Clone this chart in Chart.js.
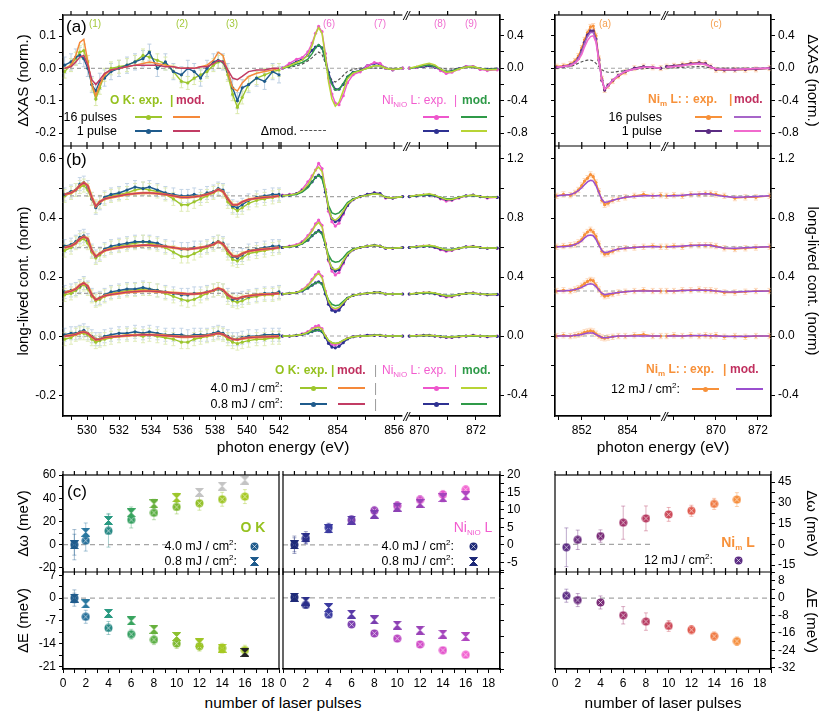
<!DOCTYPE html>
<html>
<head>
<meta charset="utf-8">
<script src="https://cdn.jsdelivr.net/npm/chart.js@4.4.0/dist/chart.umd.min.js"></script>
<style>
body{margin:0;background:#fff;width:830px;height:723px;position:relative;overflow:hidden;font-family:'Liberation Sans',Arial,Helvetica,sans-serif;}
canvas{position:absolute;}
.t{position:absolute;white-space:nowrap;line-height:1;color:#000;font-size:12px;}
sub{font-size:8px;vertical-align:-3px;line-height:0;}
sup{font-size:8px;vertical-align:5px;line-height:0;}
</style>
</head>
<body>
<canvas id="cAB" width="545" height="446" style="left:0;top:0"></canvas>
<canvas id="cMB" width="290" height="446" style="left:540px;top:0"></canvas>
<canvas id="cOK" width="290" height="234" style="left:0;top:455px"></canvas>
<canvas id="cNI" width="277" height="234" style="left:268px;top:455px"></canvas>
<canvas id="cNM" width="290" height="234" style="left:540px;top:455px"></canvas>
<script>
// ---------- photon energy grids (eV) ----------
const eOK = [528.6, 529.0, 529.3, 529.55, 529.8, 530.05, 530.3, 530.55, 530.8, 531.1, 531.5, 532.0, 532.5, 533.0, 533.5, 533.9, 534.4, 534.9, 535.4, 535.9, 536.3, 536.7, 537.1, 537.5, 537.9, 538.2, 538.5, 538.8, 539.1, 539.4, 539.7, 540.1, 540.6, 541.1, 541.6, 542.0];
const eNi1 = [852.05, 852.3, 852.55, 852.75, 852.95, 853.1, 853.22, 853.33, 853.45, 853.57, 853.68, 853.8, 853.92, 854.05, 854.2, 854.35, 854.55, 854.8, 855.05, 855.3, 855.5, 855.7, 855.95, 856.3];
const eNi2 = [869.65, 869.9, 870.15, 870.35, 870.55, 870.75, 870.95, 871.15, 871.4, 871.65, 871.9, 872.15, 872.4, 872.75];
const eNim1 = [850.9, 851.2, 851.5, 851.7, 851.85, 852.0, 852.12, 852.25, 852.38, 852.5, 852.62, 852.75, 852.88, 853.0, 853.15, 853.35, 853.6, 853.9, 854.3, 854.7, 855.1, 855.45];
const eNim2 = [867.65, 868.0, 868.4, 868.8, 869.2, 869.5, 869.75, 870.0, 870.4, 870.9, 871.4, 871.9, 872.55];

// ---------- (a) dXAS, O K ----------
const okA16 = [-0.01, 0.01, 0.03, 0.05, 0.055, 0.02, -0.05, -0.095, -0.06, -0.02, 0.0, 0.005, 0.01, 0.02, 0.04, 0.035, 0.025, 0.015, -0.01, -0.04, -0.045, -0.03, -0.02, -0.01, 0.01, 0.02, 0.02, -0.02, -0.08, -0.12, -0.09, -0.05, -0.03, -0.02, -0.01, -0.005];
const okA1 = [0.01, 0.02, 0.035, 0.04, 0.03, 0.0, -0.05, -0.07, -0.04, -0.03, -0.01, 0.0, 0.01, 0.02, 0.03, 0.05, 0.0, 0.02, -0.01, -0.02, 0.0, -0.01, -0.03, 0.0, 0.02, 0.025, 0.02, -0.01, -0.06, -0.1, -0.06, -0.05, -0.03, -0.04, -0.01, -0.02];
const okAmod16 = [0.0, 0.01, 0.04, 0.08, 0.09, 0.02, -0.05, -0.085, -0.05, -0.02, -0.005, 0.0, 0.005, 0.01, 0.015, 0.02, 0.015, 0.01, 0.005, 0.0, 0.0, 0.0, 0.005, 0.01, 0.025, 0.05, 0.04, -0.01, -0.06, -0.07, -0.045, -0.025, -0.015, -0.01, -0.005, 0.0];
const okAmod1 = [0.0, 0.005, 0.02, 0.035, 0.04, 0.01, -0.035, -0.05, -0.035, -0.015, -0.005, 0.0, 0.005, 0.01, 0.01, 0.01, 0.01, 0.005, 0.005, 0.0, 0.0, 0.0, 0.005, 0.005, 0.015, 0.025, 0.02, -0.005, -0.03, -0.035, -0.025, -0.01, -0.005, -0.005, 0.0, 0.0];

// ---------- (a) dXAS, Ni(NiO) L ----------
const niA16_1 = [0.0, 0.06, 0.11, 0.13, 0.2, 0.31, 0.43, 0.515, 0.45, 0.18, -0.12, -0.32, -0.43, -0.45, -0.34, -0.18, -0.08, -0.045, 0.03, 0.07, 0.06, 0.0, -0.02, 0.0];
const niA1_1 = [0.0, 0.04, 0.08, 0.11, 0.16, 0.22, 0.26, 0.28, 0.25, 0.12, -0.05, -0.18, -0.26, -0.26, -0.2, -0.11, -0.05, -0.03, 0.03, 0.06, 0.05, 0.0, -0.02, 0.0];
const niAmod16_1 = [0.0, 0.03, 0.07, 0.1, 0.16, 0.28, 0.42, 0.5, 0.43, 0.15, -0.17, -0.38, -0.47, -0.42, -0.28, -0.13, -0.06, -0.03, 0.0, 0.03, 0.03, 0.0, -0.015, 0.0];
const niAmod1_1 = [0.0, 0.02, 0.05, 0.07, 0.11, 0.18, 0.25, 0.29, 0.25, 0.09, -0.08, -0.2, -0.27, -0.26, -0.19, -0.1, -0.05, -0.03, 0.0, 0.03, 0.03, 0.0, -0.015, 0.0];
const niAdmod_1 = [0.0, 0.01, 0.03, 0.05, 0.09, 0.13, 0.17, 0.2, 0.17, 0.06, -0.07, -0.15, -0.17, -0.14, -0.09, -0.04, -0.015, 0.0, 0.0, 0.0, 0.0, 0.0, 0.0, 0.0];
const niA16_2 = [0.0, 0.01, 0.03, 0.045, 0.02, -0.03, -0.065, -0.05, -0.01, 0.02, 0.02, -0.015, -0.03, -0.02];
const niA1_2 = [0.0, 0.01, 0.02, 0.03, 0.01, -0.02, -0.045, -0.035, -0.005, 0.02, 0.02, -0.01, -0.015, -0.01];
const niAmod16_2 = [0.0, 0.02, 0.045, 0.06, 0.04, -0.01, -0.05, -0.045, -0.01, 0.015, 0.02, -0.005, -0.02, -0.015];
const niAmod1_2 = [0.0, 0.01, 0.03, 0.04, 0.02, -0.015, -0.04, -0.035, -0.005, 0.015, 0.015, -0.005, -0.015, -0.01];
const niAdmod_2 = [0.0, 0.005, 0.015, 0.02, 0.015, 0.0, -0.01, -0.01, 0.0, 0.005, 0.005, 0.0, -0.005, 0.0];

// ---------- (a) dXAS, Ni(m) L ----------
const nimA16_1 = [0.02, 0.03, 0.05, 0.09, 0.15, 0.25, 0.35, 0.44, 0.51, 0.52, 0.4, 0.12, -0.13, -0.27, -0.22, -0.16, -0.1, -0.05, 0.0, 0.02, 0.01, 0.0];
const nimA1_1 = [0.01, 0.02, 0.04, 0.07, 0.12, 0.22, 0.32, 0.41, 0.46, 0.46, 0.36, 0.1, -0.15, -0.27, -0.21, -0.15, -0.09, -0.04, 0.0, 0.02, 0.01, 0.0];
const nimAmod16_1 = [0.01, 0.02, 0.04, 0.07, 0.12, 0.2, 0.3, 0.39, 0.44, 0.44, 0.35, 0.1, -0.14, -0.25, -0.22, -0.15, -0.09, -0.04, -0.01, 0.01, 0.01, 0.0];
const nimAmod1_1 = [0.01, 0.02, 0.03, 0.06, 0.1, 0.17, 0.26, 0.34, 0.39, 0.4, 0.32, 0.08, -0.15, -0.26, -0.22, -0.15, -0.09, -0.04, -0.01, 0.01, 0.01, 0.0];
const nimAdmod_1 = [0.0, 0.01, 0.02, 0.04, 0.06, 0.08, 0.09, 0.1, 0.1, 0.09, 0.06, 0.02, -0.02, -0.04, -0.05, -0.05, -0.04, -0.03, -0.015, -0.005, 0.0, 0.0];
const nimA16_2 = [0.02, 0.03, 0.045, 0.06, 0.07, 0.06, 0.02, -0.02, -0.025, -0.02, -0.02, -0.015, 0.0];
const nimA1_2 = [0.02, 0.03, 0.04, 0.055, 0.065, 0.055, 0.02, -0.015, -0.02, -0.02, -0.015, -0.01, 0.0];
const nimAmod16_2 = [0.01, 0.02, 0.035, 0.05, 0.06, 0.05, 0.02, -0.01, -0.015, -0.015, -0.01, -0.005, 0.0];
const nimAmod1_2 = [0.01, 0.02, 0.03, 0.045, 0.055, 0.045, 0.015, -0.01, -0.015, -0.015, -0.01, -0.005, 0.0];
const nimAdmod_2 = [0.0, 0.005, 0.01, 0.015, 0.02, 0.015, 0.005, 0.0, 0.0, 0.0, 0.0, 0.0, 0.0];

// ---------- (b) long-lived part, baselines of the four traces ----------
const okOff = [0, 0.145, 0.30, 0.475];
const niOff = [0, 0.285, 0.60, 0.945];
const nimOff = [0, 0.305, 0.605, 0.95];

// O K, change from baseline
const okB40 = [
  [-0.01, -0.005, 0.005, 0.01, 0.01, 0.005, -0.01, -0.02, -0.015, -0.01, -0.005, 0.0, 0.005, 0.005, 0.0, 0.005, 0.0, -0.005, -0.01, -0.02, -0.02, -0.01, -0.005, 0.0, 0.005, 0.01, 0.005, -0.01, -0.02, -0.025, -0.02, -0.015, -0.01, -0.01, -0.005, -0.005],
  [-0.005, 0.0, 0.01, 0.02, 0.03, 0.015, -0.01, -0.025, -0.02, -0.01, 0.0, 0.005, 0.01, 0.012, 0.015, 0.015, 0.01, 0.0, -0.01, -0.02, -0.025, -0.02, -0.01, 0.0, 0.01, 0.015, 0.01, -0.015, -0.025, -0.03, -0.025, -0.015, -0.01, -0.005, -0.005, 0.0],
  [-0.01, 0.0, 0.015, 0.025, 0.03, 0.015, -0.015, -0.035, -0.025, -0.01, 0.0, 0.005, 0.01, 0.015, 0.02, 0.015, 0.01, 0.0, -0.015, -0.03, -0.03, -0.02, -0.01, 0.0, 0.01, 0.02, 0.01, -0.02, -0.04, -0.045, -0.035, -0.02, -0.015, -0.01, -0.005, 0.0],
  [0.0, 0.01, 0.02, 0.03, 0.035, 0.02, -0.01, -0.035, -0.02, -0.01, 0.0, 0.005, 0.01, 0.02, 0.025, 0.02, 0.015, 0.005, -0.01, -0.03, -0.03, -0.02, -0.01, 0.0, 0.01, 0.02, 0.015, -0.02, -0.04, -0.05, -0.04, -0.025, -0.015, -0.01, -0.005, 0.0]
];
const okB08 = [
  [0.005, 0.01, 0.01, 0.015, 0.02, 0.01, 0.0, -0.01, -0.01, 0.0, 0.005, 0.01, 0.01, 0.015, 0.01, 0.015, 0.01, 0.005, 0.005, 0.005, 0.0, 0.005, 0.005, 0.005, 0.01, 0.015, 0.01, 0.0, -0.01, -0.01, -0.005, 0.0, 0.0, 0.005, 0.005, 0.005],
  [0.005, 0.01, 0.015, 0.025, 0.035, 0.02, -0.005, -0.02, -0.015, -0.005, 0.005, 0.01, 0.015, 0.015, 0.02, 0.015, 0.01, 0.005, 0.0, -0.005, -0.005, 0.0, 0.0, 0.005, 0.01, 0.015, 0.01, -0.005, -0.02, -0.02, -0.015, -0.01, -0.005, 0.0, 0.0, 0.005],
  [0.005, 0.01, 0.02, 0.035, 0.04, 0.025, -0.01, -0.03, -0.02, -0.005, 0.005, 0.01, 0.015, 0.02, 0.02, 0.02, 0.015, 0.005, 0.0, -0.005, -0.005, 0.0, 0.0, 0.005, 0.015, 0.02, 0.015, -0.01, -0.03, -0.035, -0.025, -0.01, -0.005, 0.0, 0.005, 0.005],
  [0.005, 0.015, 0.02, 0.04, 0.045, 0.03, -0.01, -0.04, -0.025, -0.005, 0.005, 0.01, 0.02, 0.03, 0.025, 0.03, 0.02, 0.01, 0.005, 0.0, 0.0, 0.005, 0.0, 0.01, 0.015, 0.025, 0.02, -0.01, -0.035, -0.04, -0.03, -0.015, -0.005, 0.0, 0.005, 0.005]
];
const okBmod = [
  [0.0, 0.003, 0.006, 0.012, 0.015, 0.01, -0.002, -0.012, -0.01, -0.005, -0.002, 0.0, 0.002, 0.004, 0.005, 0.005, 0.004, 0.002, 0.0, -0.002, -0.002, -0.001, 0.0, 0.002, 0.006, 0.01, 0.006, -0.003, -0.01, -0.012, -0.008, -0.005, -0.003, -0.002, -0.001, 0.0],
  [0.003, 0.008, 0.015, 0.028, 0.035, 0.025, -0.005, -0.022, -0.015, -0.008, -0.004, 0.0, 0.004, 0.006, 0.008, 0.008, 0.006, 0.004, 0.002, 0.0, -0.002, -0.002, 0.0, 0.004, 0.01, 0.018, 0.012, -0.005, -0.015, -0.018, -0.012, -0.008, -0.005, -0.003, -0.002, 0.0],
  [0.0, 0.005, 0.015, 0.03, 0.037, 0.03, -0.01, -0.03, -0.02, -0.01, -0.005, 0.0, 0.004, 0.006, 0.008, 0.008, 0.006, 0.004, 0.0, -0.004, -0.005, -0.003, 0.0, 0.004, 0.01, 0.02, 0.012, -0.01, -0.028, -0.03, -0.02, -0.012, -0.008, -0.005, -0.003, 0.0],
  [0.005, 0.01, 0.02, 0.035, 0.045, 0.035, -0.005, -0.035, -0.02, -0.01, -0.005, 0.0, 0.005, 0.008, 0.01, 0.01, 0.008, 0.005, 0.0, -0.005, -0.005, -0.003, 0.0, 0.005, 0.012, 0.022, 0.015, -0.01, -0.03, -0.03, -0.02, -0.012, -0.008, -0.005, -0.003, 0.0]
];

// Ni(NiO) L, change from baseline
const niB40_1 = [
  [0.0, 0.0, 0.005, 0.015, 0.03, 0.05, 0.065, 0.07, 0.05, 0.0, -0.04, -0.06, -0.06, -0.05, -0.035, -0.015, -0.005, 0.0, 0.005, 0.005, 0.005, 0.0, 0.0, 0.0],
  [0.0, 0.005, 0.01, 0.03, 0.06, 0.1, 0.13, 0.15, 0.12, 0.02, -0.06, -0.1, -0.11, -0.1, -0.07, -0.03, -0.01, 0.0, 0.005, 0.01, 0.01, 0.0, 0.0, 0.0],
  [0.0, 0.01, 0.02, 0.04, 0.08, 0.12, 0.16, 0.186, 0.15, 0.03, -0.09, -0.16, -0.186, -0.17, -0.11, -0.05, -0.015, 0.0, 0.01, 0.015, 0.01, -0.005, -0.005, 0.0],
  [0.01, 0.015, 0.02, 0.05, 0.1, 0.14, 0.18, 0.225, 0.19, 0.05, -0.1, -0.17, -0.2, -0.18, -0.12, -0.06, -0.02, 0.0, 0.015, 0.025, 0.02, -0.01, -0.01, 0.0]
];
const niB08_1 = [
  [0.0, 0.0, 0.005, 0.01, 0.02, 0.03, 0.04, 0.04, 0.03, -0.01, -0.05, -0.075, -0.08, -0.07, -0.045, -0.02, -0.005, 0.0, 0.005, 0.005, 0.005, 0.0, 0.0, 0.0],
  [0.0, 0.005, 0.01, 0.02, 0.04, 0.06, 0.075, 0.083, 0.07, 0.0, -0.07, -0.11, -0.12, -0.11, -0.07, -0.03, -0.01, 0.0, 0.005, 0.01, 0.01, 0.0, 0.0, 0.0],
  [0.0, 0.005, 0.01, 0.03, 0.05, 0.08, 0.1, 0.114, 0.1, 0.02, -0.08, -0.14, -0.16, -0.15, -0.1, -0.05, -0.015, 0.0, 0.01, 0.015, 0.01, -0.005, -0.005, 0.0],
  [0.005, 0.01, 0.02, 0.04, 0.07, 0.1, 0.13, 0.145, 0.13, 0.03, -0.08, -0.15, -0.17, -0.16, -0.11, -0.06, -0.02, 0.0, 0.015, 0.025, 0.02, -0.005, -0.01, 0.0]
];
const niBmod40_1 = [
  [0.0, 0.0, 0.005, 0.01, 0.025, 0.045, 0.055, 0.06, 0.045, 0.0, -0.03, -0.045, -0.05, -0.045, -0.03, -0.015, -0.005, 0.0, 0.0, 0.005, 0.005, 0.0, 0.0, 0.0],
  [0.0, 0.005, 0.01, 0.025, 0.055, 0.09, 0.12, 0.14, 0.11, 0.02, -0.05, -0.09, -0.1, -0.09, -0.06, -0.03, -0.01, 0.0, 0.005, 0.01, 0.01, 0.0, 0.0, 0.0],
  [0.0, 0.005, 0.015, 0.03, 0.07, 0.11, 0.15, 0.17, 0.14, 0.03, -0.08, -0.14, -0.15, -0.14, -0.09, -0.045, -0.015, 0.0, 0.01, 0.015, 0.01, -0.005, -0.005, 0.0],
  [0.005, 0.01, 0.02, 0.04, 0.08, 0.13, 0.18, 0.2, 0.17, 0.05, -0.08, -0.15, -0.16, -0.14, -0.1, -0.05, -0.02, 0.0, 0.01, 0.02, 0.015, -0.005, -0.01, 0.0]
];
const niBmod08_1 = [
  [0.0, 0.0, 0.005, 0.01, 0.02, 0.03, 0.035, 0.04, 0.03, 0.0, -0.03, -0.045, -0.05, -0.045, -0.03, -0.015, -0.005, 0.0, 0.0, 0.005, 0.005, 0.0, 0.0, 0.0],
  [0.0, 0.005, 0.01, 0.02, 0.04, 0.06, 0.075, 0.08, 0.065, 0.01, -0.04, -0.07, -0.08, -0.075, -0.05, -0.025, -0.01, 0.0, 0.005, 0.01, 0.01, 0.0, 0.0, 0.0],
  [0.0, 0.005, 0.01, 0.025, 0.05, 0.08, 0.1, 0.11, 0.09, 0.02, -0.05, -0.09, -0.1, -0.095, -0.07, -0.035, -0.01, 0.0, 0.01, 0.015, 0.01, -0.005, -0.005, 0.0],
  [0.005, 0.01, 0.015, 0.03, 0.06, 0.1, 0.13, 0.145, 0.12, 0.04, -0.06, -0.11, -0.12, -0.11, -0.08, -0.04, -0.015, 0.0, 0.01, 0.02, 0.015, -0.005, -0.01, 0.0]
];
const niB40_2 = [
  [0.0, 0.003, 0.005, 0.005, 0.0, -0.005, -0.01, -0.01, -0.005, 0.0, 0.005, 0.0, -0.005, 0.0],
  [0.0, 0.004, 0.008, 0.01, 0.002, -0.01, -0.02, -0.018, -0.006, 0.004, 0.008, 0.0, -0.006, -0.004],
  [0.0, 0.005, 0.01, 0.012, 0.0, -0.015, -0.025, -0.02, -0.005, 0.005, 0.008, 0.0, -0.005, -0.005],
  [0.0, 0.005, 0.01, 0.015, 0.005, -0.015, -0.03, -0.025, -0.01, 0.005, 0.01, 0.0, -0.01, -0.005]
];
const niB08_2 = [
  [0.0, 0.002, 0.004, 0.005, 0.0, -0.004, -0.008, -0.008, -0.004, 0.0, 0.004, 0.0, -0.004, -0.002],
  [0.0, 0.004, 0.006, 0.008, 0.002, -0.008, -0.015, -0.014, -0.005, 0.004, 0.006, 0.0, -0.005, -0.003],
  [0.0, 0.004, 0.008, 0.01, 0.002, -0.01, -0.018, -0.016, -0.005, 0.004, 0.007, 0.0, -0.005, -0.004],
  [0.0, 0.005, 0.01, 0.01, 0.005, -0.01, -0.02, -0.02, -0.005, 0.005, 0.01, 0.0, -0.005, -0.005]
];
const niBmod40_2 = [
  [0.0, 0.002, 0.004, 0.005, 0.002, -0.003, -0.006, -0.006, -0.003, 0.0, 0.003, 0.0, -0.002, 0.0],
  [0.0, 0.005, 0.01, 0.012, 0.006, -0.004, -0.014, -0.014, -0.004, 0.004, 0.006, 0.0, -0.004, -0.002],
  [0.0, 0.006, 0.012, 0.015, 0.008, -0.005, -0.017, -0.017, -0.005, 0.004, 0.007, 0.0, -0.004, -0.003],
  [0.0, 0.01, 0.015, 0.02, 0.01, -0.005, -0.02, -0.02, -0.005, 0.005, 0.01, 0.0, -0.005, -0.005]
];
const niBmod08_2 = [
  [0.0, 0.002, 0.003, 0.004, 0.002, -0.002, -0.005, -0.005, -0.002, 0.0, 0.002, 0.0, -0.002, 0.0],
  [0.0, 0.004, 0.007, 0.009, 0.004, -0.004, -0.011, -0.011, -0.003, 0.003, 0.005, 0.0, -0.003, -0.002],
  [0.0, 0.005, 0.009, 0.011, 0.005, -0.004, -0.013, -0.013, -0.004, 0.003, 0.006, 0.0, -0.003, -0.003],
  [0.0, 0.005, 0.01, 0.015, 0.005, -0.005, -0.015, -0.015, -0.005, 0.005, 0.008, 0.0, -0.005, -0.005]
];

// Ni(m) L, change from baseline
const nimB_1 = [
  [0.0, 0.005, 0.0, 0.005, 0.01, 0.015, 0.025, 0.03, 0.035, 0.03, 0.015, 0.0, -0.01, -0.015, -0.01, -0.005, 0.0, 0.0, 0.005, 0.01, 0.0, 0.0],
  [0.0, 0.005, 0.0, 0.01, 0.02, 0.035, 0.05, 0.065, 0.075, 0.07, 0.04, 0.01, -0.02, -0.035, -0.03, -0.02, -0.01, -0.005, 0.0, 0.005, 0.0, 0.0],
  [0.0, 0.005, 0.01, 0.015, 0.03, 0.05, 0.08, 0.1, 0.115, 0.1, 0.07, 0.02, -0.03, -0.05, -0.045, -0.03, -0.015, -0.01, -0.005, 0.0, 0.005, 0.0],
  [0.0, 0.01, 0.005, 0.02, 0.04, 0.07, 0.1, 0.12, 0.145, 0.13, 0.09, 0.03, -0.03, -0.06, -0.05, -0.03, -0.02, -0.01, 0.0, 0.01, 0.0, 0.005]
];
const nimBmod_1 = [
  [0.0, 0.0, 0.0, 0.005, 0.005, 0.01, 0.015, 0.02, 0.02, 0.02, 0.01, 0.0, -0.01, -0.012, -0.01, -0.005, 0.0, 0.0, 0.0, 0.0, 0.0, 0.0],
  [0.0, 0.0, 0.005, 0.01, 0.015, 0.025, 0.035, 0.045, 0.05, 0.045, 0.03, 0.005, -0.015, -0.025, -0.02, -0.015, -0.01, -0.005, 0.0, 0.0, 0.0, 0.0],
  [0.0, 0.0, 0.005, 0.015, 0.025, 0.04, 0.06, 0.075, 0.08, 0.075, 0.05, 0.01, -0.025, -0.04, -0.035, -0.025, -0.015, -0.01, -0.005, 0.0, 0.0, 0.0],
  [0.0, 0.005, 0.01, 0.02, 0.035, 0.055, 0.075, 0.095, 0.105, 0.1, 0.07, 0.02, -0.025, -0.045, -0.04, -0.03, -0.02, -0.01, -0.005, 0.0, 0.0, 0.0]
];
const nimB_2 = [
  [0.0, 0.005, 0.0, 0.005, 0.0, 0.005, 0.0, 0.005, -0.005, 0.0, -0.005, 0.0, 0.0],
  [0.0, 0.0, 0.005, 0.005, 0.01, 0.005, 0.005, 0.0, -0.01, -0.01, -0.005, 0.0, 0.0],
  [0.0, 0.005, 0.0, 0.01, 0.01, 0.01, 0.01, 0.005, -0.01, -0.015, -0.01, -0.005, 0.0],
  [0.0, 0.005, 0.0, 0.01, 0.01, 0.015, 0.015, 0.01, 0.0, -0.015, -0.01, -0.01, 0.0]
];
const nimBmod_2 = [
  [0.0, 0.0, 0.0, 0.002, 0.003, 0.003, 0.002, 0.0, -0.002, -0.003, -0.002, 0.0, 0.0],
  [0.0, 0.0, 0.003, 0.005, 0.006, 0.006, 0.004, 0.0, -0.005, -0.006, -0.004, -0.002, 0.0],
  [0.0, 0.0, 0.005, 0.008, 0.01, 0.012, 0.01, 0.0, -0.008, -0.01, -0.006, -0.004, 0.0],
  [0.0, 0.0, 0.005, 0.01, 0.012, 0.015, 0.012, 0.005, -0.005, -0.01, -0.008, -0.005, 0.0]
];

// ---------- (c) line shift / width vs pulses ----------
const pulses = [1, 2, 4, 6, 8, 10, 12, 14, 16];
const okW40 = [0, 3.5, 11.9, 21.4, 27.5, 32.5, 35.7, 39.1, 41.4];
const okW40err = [13, 9, 14, 7, 6, 6, 6, 6, 6];
const okW08 = [0, 10.7, 20.9, 27.5, 35.1, 40.3, 45.2, 50.4, 55.6];
const okW08err = [9, 8, 6, 5, 4, 4, 3, 3, 3];
const okE40 = [0, -5.75, -9.2, -11.1, -12.8, -14.0, -14.8, -15.4, -16.0];
const okE40err = [2.5, 2, 2, 1.5, 1.5, 1.5, 1.5, 1.5, 1.5];
const okE08 = [0, -1.8, -4.7, -7.0, -9.6, -11.8, -13.8, -15.4, -16.7];
const okE08err = [1.5, 1, 1, 1, 1, 1, 1, 1, 1];
const niW40 = [0, 1.8, 4.9, 7.1, 9.8, 11.2, 12.9, 14.4, 15.8];
const niW40err = [2.5, 1.5, 1.3, 1.3, 1.2, 1.2, 1.2, 1.2, 1.2];
const niW08 = [0, 2.0, 4.6, 7.1, 8.8, 10.8, 11.9, 13.5, 14.0];
const niW08err = [2, 1.8, 1.2, 1.2, 1.2, 1.2, 1.2, 1.2, 1.2];
const niE40 = [0.1, -1.1, -2.6, -4.1, -5.5, -6.3, -7.2, -8.1, -8.8];
const niE40err = [0.4, 0.5, 0.4, 0.4, 0.4, 0.4, 0.4, 0.4, 0.4];
const niE08 = [0.1, -0.5, -1.5, -2.5, -3.4, -4.2, -5.0, -5.6, -6.0];
const niE08err = [0.3, 0.4, 0.3, 0.3, 0.3, 0.3, 0.3, 0.3, 0.3];
const nimW = [-2.1, 3.3, 6.0, 15.7, 18.8, 21.7, 24.3, 29.3, 32.4];
const nimWerr = [14, 7, 4.5, 12, 9, 5, 4, 4, 5];
const nimE = [1.1, -0.9, -2.0, -7.9, -10.8, -12.8, -14.6, -17.5, -19.8];
const nimEerr = [3, 3, 3, 4, 4, 2.5, 2, 2, 2];

// point colours of panel (c)
const okCol40 = ['#1f5b8c', '#27709a', '#2a8a86', '#36a062', '#5aae42', '#7cb82e', '#92c026', '#9ec524', '#a6c922'];
const okCol08w = ['#1f5b8c', '#2a78a0', '#2a9a82', '#38a45e', '#66b03c', '#9cc62a', '#c4c4c4', '#c4c4c4', '#c4c4c4'];
const okCol08e = ['#1f5b8c', '#2a78a0', '#2a9a82', '#38a45e', '#66b03c', '#8cc030', '#9ec524', '#a6c922', '#222222'];
const niCol40 = ['#1e2a78', '#2a2e8a', '#3a3aa0', '#7a3eae', '#9a40b8', '#bb46c2', '#d24cc8', '#e454cc', '#f262d0'];
const niCol08 = ['#1e2a78', '#2a2e8a', '#3a3aa0', '#5a3aa8', '#7a3eb0', '#8c40b4', '#9a42b8', '#a444bc', '#b046c0'];
const nimCol = ['#5b2c83', '#6a2c7e', '#7a2c78', '#a2326c', '#b83c62', '#cc4858', '#e05a4e', '#f07a42', '#f68e3c'];

const C = {G: '#9dc62d', B: '#1f5b8c', OR: '#f5893a', CR: '#c23c64', PK: '#ee56cc', NV: '#2e3192',
  YG: '#b8d435', DG: '#2f9a48', NO: '#f7913a', PU: '#5b2c83', LP: '#a765c9', PM: '#f16acd'};

Chart.defaults.font.family = "'Liberation Sans', Arial, Helvetica, sans-serif";
Chart.defaults.font.size = 12;
Chart.defaults.color = '#000';

const pts = (xs, ys, off) => xs.map((x, i) => ({x: x, y: ys[i] + (off || 0)}));

function exp(xs, ys, off, col, xa, ya, err, errCol) {
  return {data: pts(xs, ys, off), xAxisID: xa, yAxisID: ya, borderColor: col, backgroundColor: col,
    borderWidth: 1.4, pointRadius: 1.6, pointBorderWidth: 0, err: err, errColor: errCol, order: 2};
}
function mod(xs, ys, off, col, xa, ya, w) {
  return {data: pts(xs, ys, off), xAxisID: xa, yAxisID: ya, borderColor: col, backgroundColor: col,
    borderWidth: w || 1.5, pointRadius: 0, order: 1};
}
function flat(x0, x1, y, xa, ya, col, dash, w) {
  return {data: [{x: x0, y: y}, {x: x1, y: y}], xAxisID: xa, yAxisID: ya, borderColor: col || '#a5a5a5',
    borderDash: dash || [4, 3], borderWidth: w || 1.1, pointRadius: 0, order: 5};
}

function every(v, lab, dec) {
  const r = v / lab;
  return Math.abs(r - Math.round(r)) < 1e-6 ? (Math.round(r) * lab).toFixed(dec) : '';
}
function xAx(min, max, sw, wt, labs) {
  return {type: 'linear', axis: 'x', position: 'bottom', stack: 's', stackWeight: sw, weight: wt, min: min, max: max,
    grid: {drawOnChartArea: false, color: '#000', tickLength: 4}, border: {color: '#000', width: 1.2},
    ticks: {stepSize: 1, includeBounds: false, autoSkip: false, maxRotation: 0, padding: 3,
      callback: v => labs.indexOf(v) >= 0 ? String(v) : ''},
    afterFit: s => { s.height = 30; }};
}
function yAx(pos, sw, wt, min, max, step, lab, dec, title, pad, width, show) {
  return {type: 'linear', axis: 'y', position: pos, stack: 's', stackWeight: sw, weight: wt, min: min, max: max,
    grid: {drawOnChartArea: false, color: '#000', tickLength: 4}, border: {color: '#000', width: 1.2},
    ticks: {stepSize: step, includeBounds: false, autoSkip: false, padding: 3, display: show !== false,
      callback: v => every(v, lab, dec)},
    title: {display: !!title, text: title, font: {size: 15}, padding: {top: pad, bottom: 0}},
    afterFit: s => { s.width = width; }};
}
function xPulses() {
  return {type: 'linear', axis: 'x', position: 'bottom', min: 0, max: 19,
    grid: {drawOnChartArea: false, color: '#000', tickLength: 4}, border: {color: '#000', width: 1.2},
    ticks: {stepSize: 1, includeBounds: false, autoSkip: false, maxRotation: 0, padding: 3,
      callback: v => v % 2 === 0 ? String(v) : ''},
    afterFit: s => { s.height = 20; }};
}

// error bars drawn behind the data
const errPlugin = {
  id: 'errbars',
  beforeDatasetsDraw(chart) {
    const ctx = chart.ctx;
    chart.data.datasets.forEach((ds, di) => {
      if (ds.err == null) return;
      const meta = chart.getDatasetMeta(di);
      const ys = chart.scales[ds.yAxisID];
      ctx.save();
      ctx.lineWidth = 1;
      meta.data.forEach((p, i) => {
        const e = Array.isArray(ds.err) ? ds.err[i] : ds.err;
        const v = ds.data[i].y;
        const y1 = ys.getPixelForValue(v - e), y2 = ys.getPixelForValue(v + e);
        ctx.strokeStyle = Array.isArray(ds.errColor) ? ds.errColor[i] : ds.errColor;
        ctx.beginPath();
        ctx.moveTo(p.x, y1); ctx.lineTo(p.x, y2);
        ctx.moveTo(p.x - 2, y1); ctx.lineTo(p.x + 2, y1);
        ctx.moveTo(p.x - 2, y2); ctx.lineTo(p.x + 2, y2);
        ctx.stroke();
      });
      ctx.restore();
    });
  }
};

// frame round the plot area, dividers between stacked panels
const framePlugin = {
  id: 'frame',
  afterDraw(chart, args, opts) {
    const ctx = chart.ctx, a = chart.chartArea;
    ctx.save();
    ctx.strokeStyle = '#000';
    ctx.lineWidth = 1.2;
    ctx.strokeRect(a.left, a.top, a.right - a.left, a.bottom - a.top);
    const xs = Object.values(chart.scales).filter(s => s.axis === 'x');
    const rows = [a.top].concat((opts.dividers || []).map(id => chart.scales[id].top));
    rows.forEach((y, k) => {
      ctx.beginPath();
      if (k > 0) { ctx.moveTo(a.left, y); ctx.lineTo(a.right, y); }
      xs.forEach(s => s.ticks.forEach(t => {
        const px = s.getPixelForValue(t.value);
        ctx.moveTo(px, y - 4); ctx.lineTo(px, y + (k > 0 ? 3 : 0));
      }));
      ctx.stroke();
    });
    ctx.restore();
  }
};

function marker(col, kind) {
  const c = document.createElement('canvas');
  c.width = 9; c.height = 9;
  const g = c.getContext('2d');
  g.fillStyle = col; g.strokeStyle = col; g.lineWidth = 1;
  if (kind === 'o') {
    g.beginPath(); g.arc(4.5, 4.5, 4, 0, Math.PI * 2); g.fill();
    g.strokeStyle = 'rgba(255,255,255,0.6)';
    g.beginPath(); g.moveTo(2.3, 2.3); g.lineTo(6.7, 6.7); g.moveTo(6.7, 2.3); g.lineTo(2.3, 6.7); g.stroke();
  } else {
    g.beginPath(); g.moveTo(0.5, 0.5); g.lineTo(8.5, 0.5); g.lineTo(0.5, 8.5); g.lineTo(8.5, 8.5); g.closePath();
    g.fill(); g.stroke();
  }
  return c;
}

const baseOpts = (pad, frame) => ({
  responsive: false, animation: false, events: [],
  layout: {padding: pad},
  plugins: {legend: {display: false}, tooltip: {enabled: false}, frame: frame}
});

// ===== (a)+(b): O K and Ni(NiO) L =====
const dsAB = [];
dsAB.push(mod(eOK, okAmod1, 0, C.CR, 'xOK', 'yOKa'));
dsAB.push(mod(eOK, okAmod16, 0, C.OR, 'xOK', 'yOKa'));
dsAB.push(exp(eOK, okA1, 0, C.B, 'xOK', 'yOKa', 0.025, '#bccfe2'));
dsAB.push(exp(eOK, okA16, 0, C.G, 'xOK', 'yOKa', 0.02, '#dbe9ad'));
dsAB.push(flat(528.5, 542.2, 0, 'xOK', 'yOKa'));
[[eNi1, niA16_1, niA1_1, niAmod16_1, niAmod1_1, niAdmod_1, 'xN1', 852, 856.5],
 [eNi2, niA16_2, niA1_2, niAmod16_2, niAmod1_2, niAdmod_2, 'xN2', 869.6, 872.9]].forEach(s => {
  dsAB.push(mod(s[0], s[3], 0, C.YG, s[6], 'yNa'));
  dsAB.push(mod(s[0], s[4], 0, C.DG, s[6], 'yNa'));
  dsAB.push(exp(s[0], s[1], 0, C.PK, s[6], 'yNa'));
  dsAB.push(exp(s[0], s[2], 0, C.NV, s[6], 'yNa'));
  dsAB.push(Object.assign(mod(s[0], s[5], 0, '#555', s[6], 'yNa', 1.2), {borderDash: [3, 2], order: 3}));
  dsAB.push(flat(s[7], s[8], 0, s[6], 'yNa'));
});
okOff.forEach((off, k) => {
  dsAB.push(mod(eOK, okBmod[k], off, C.CR, 'xOK', 'yOKb', 1.3));
  dsAB.push(mod(eOK, okBmod[k], off, C.OR, 'xOK', 'yOKb', 2.6));
  dsAB.push(exp(eOK, okB08[k], off, C.B, 'xOK', 'yOKb', 0.022, '#c3d4e6'));
  dsAB.push(exp(eOK, okB40[k], off, C.G, 'xOK', 'yOKb', 0.022, '#e0ecb8'));
  dsAB.push(flat(528.5, 542.2, off, 'xOK', 'yOKb'));
});
niOff.forEach((off, k) => {
  dsAB.push(mod(eNi1, niBmod40_1[k], off, C.YG, 'xN1', 'yNb'));
  dsAB.push(mod(eNi1, niBmod08_1[k], off, C.DG, 'xN1', 'yNb'));
  dsAB.push(exp(eNi1, niB08_1[k], off, C.NV, 'xN1', 'yNb'));
  dsAB.push(exp(eNi1, niB40_1[k], off, C.PK, 'xN1', 'yNb'));
  dsAB.push(flat(852, 856.5, off, 'xN1', 'yNb'));
  dsAB.push(mod(eNi2, niBmod40_2[k], off, C.YG, 'xN2', 'yNb'));
  dsAB.push(mod(eNi2, niBmod08_2[k], off, C.DG, 'xN2', 'yNb'));
  dsAB.push(exp(eNi2, niB08_2[k], off, C.NV, 'xN2', 'yNb'));
  dsAB.push(exp(eNi2, niB40_2[k], off, C.PK, 'xN2', 'yNb'));
  dsAB.push(flat(869.6, 872.9, off, 'xN2', 'yNb'));
});

const optAB = baseOpts({top: 15, left: 0, right: 0, bottom: 0}, {dividers: ['yOKb']});
optAB.scales = {
  xOK: xAx(528.5, 542.125, 218, 1, [530, 532, 534, 536, 538, 540, 542]),
  xN1: xAx(852.0, 856.49, 127, 2, [854, 856]),
  xN2: xAx(869.6, 872.85, 92, 3, [870, 872]),
  yOKa: yAx('left', 131, 2, -0.24, 0.165, 0.05, 0.1, 1, 'ΔXAS (norm.)', 15, 63),
  yOKb: yAx('left', 270, 1, -0.27, 0.644, 0.1, 0.2, 1, 'long-lived cont. (norm)', 15, 63),
  yNa: yAx('right', 131, 1, -0.96, 0.656, 0.2, 0.4, 1, '', 0, 45),
  yNb: yAx('right', 270, 2, -0.542, 1.288, 0.2, 0.4, 1, '', 0, 45)
};
new Chart(document.getElementById('cAB'), {type: 'line', data: {datasets: dsAB}, options: optAB, plugins: [errPlugin, framePlugin]});

// ===== (a)+(b): Ni(m) L =====
const dsMB = [];
[[eNim1, nimA16_1, nimA1_1, nimAmod16_1, nimAmod1_1, nimAdmod_1, 'xM1', 850.83, 855.6],
 [eNim2, nimA16_2, nimA1_2, nimAmod16_2, nimAmod1_2, nimAdmod_2, 'xM2', 867.4, 872.7]].forEach(s => {
  dsMB.push(mod(s[0], s[4], 0, C.PM, s[6], 'yMa'));
  dsMB.push(mod(s[0], s[3], 0, C.LP, s[6], 'yMa'));
  dsMB.push(exp(s[0], s[2], 0, C.PU, s[6], 'yMa'));
  dsMB.push(exp(s[0], s[1], 0, C.NO, s[6], 'yMa', 0.03, '#fcd6b8'));
  dsMB.push(Object.assign(mod(s[0], s[5], 0, '#555', s[6], 'yMa', 1.2), {borderDash: [3, 2], order: 3}));
  dsMB.push(flat(s[7], s[8], 0, s[6], 'yMa'));
});
nimOff.forEach((off, k) => {
  dsMB.push(mod(eNim1, nimBmod_1[k], off, '#9a4fcf', 'xM1', 'yMb'));
  dsMB.push(exp(eNim1, nimB_1[k], off, C.NO, 'xM1', 'yMb', 0.018, '#fcd9bd'));
  dsMB.push(flat(850.83, 855.6, off, 'xM1', 'yMb'));
  dsMB.push(mod(eNim2, nimBmod_2[k], off, '#9a4fcf', 'xM2', 'yMb'));
  dsMB.push(exp(eNim2, nimB_2[k], off, C.NO, 'xM2', 'yMb', 0.018, '#fcd9bd'));
  dsMB.push(flat(867.4, 872.7, off, 'xM2', 'yMb'));
});
const optMB = baseOpts({top: 15, left: 0, right: 0, bottom: 0}, {dividers: ['yMb']});
optMB.scales = {
  xM1: xAx(850.83, 855.55, 108, 1, [852, 854]),
  xM2: xAx(867.48, 872.62, 108, 2, [870, 872]),
  yMaL: yAx('left', 131, 2, -0.96, 0.656, 0.2, 0.4, 1, '', 0, 15, false),
  yMbL: yAx('left', 270, 1, -0.542, 1.288, 0.2, 0.4, 1, '', 0, 15, false),
  yMa: yAx('right', 131, 1, -0.96, 0.656, 0.2, 0.4, 1, 'ΔXAS (norm.)', 9, 59),
  yMb: yAx('right', 270, 2, -0.542, 1.288, 0.2, 0.4, 1, 'long-lived cont. (norm)', 9, 59)
};
new Chart(document.getElementById('cMB'), {type: 'line', data: {datasets: dsMB}, options: optMB, plugins: [errPlugin, framePlugin]});

// ===== (c) =====
function ptsDs(ys, errs, cols, kind, yID) {
  return {data: pts(pulses, ys), xAxisID: 'x', yAxisID: yID, showLine: false, borderWidth: 0,
    pointStyle: cols.map(c => marker(c, kind)), pointRadius: 4, err: errs,
    errColor: cols.map(c => c + '66'), order: 1};
}
function rowC(id, pad, dsList, yW, yE, wEnd) {
  const o = baseOpts(pad, {dividers: ['yE']});
  o.scales = {x: xPulses(), yW: yW, yE: yE};
  dsList.push(flat(0, wEnd, 0, 'x', 'yW', '#a5a5a5', [5, 4], 1.3));
  dsList.push(flat(0, 19, 0, 'x', 'yE', '#a5a5a5', [5, 4], 1.3));
  new Chart(document.getElementById(id), {type: 'line', data: {datasets: dsList}, options: o, plugins: [errPlugin, framePlugin]});
}
rowC('cOK', {top: 20, left: 0, right: 11, bottom: 0},
  [ptsDs(okW08, okW08err, okCol08w, 'x', 'yW'), ptsDs(okW40, okW40err, okCol40, 'o', 'yW'),
   ptsDs(okE08, okE08err, okCol08e, 'x', 'yE'), ptsDs(okE40, okE40err, okCol40, 'o', 'yE')],
  yAx('left', 1, 2, -23.5, 60, 10, 20, 0, 'Δω (meV)', 15, 63),
  yAx('left', 1, 1, -21.8, 8, 3.5, 7, 0, 'ΔE (meV)', 15, 63), 9.4);
rowC('cNI', {top: 20, left: 15, right: 0, bottom: 0},
  [ptsDs(niW08, niW08err, niCol08, 'x', 'yW'), ptsDs(niW40, niW40err, niCol40, 'o', 'yW'),
   ptsDs(niE08, niE08err, niCol08, 'x', 'yE'), ptsDs(niE40, niE40err, niCol40, 'o', 'yE')],
  yAx('right', 1, 1, -7.8, 20, 2.5, 5, 0, '', 0, 45),
  yAx('right', 1, 2, -11, 4, 2.5, 5, 0, '', 0, 45), 8.8);
rowC('cNM', {top: 20, left: 15, right: 0, bottom: 0},
  [ptsDs(nimW, nimWerr, nimCol, 'o', 'yW'), ptsDs(nimE, nimEerr, nimCol, 'o', 'yE')],
  yAx('right', 1, 1, -20, 50.2, 7.5, 15, 0, 'Δω (meV)', 10, 59),
  yAx('right', 1, 2, -32.6, 12, 4, 8, 0, 'ΔE (meV)', 10, 59), 8.4);

// ===== text, legends =====
function T(x, y, html, css, al) {
  const d = document.createElement('div');
  d.className = 't';
  d.innerHTML = html;
  if (css) d.style.cssText = css;
  d.style.left = x + 'px';
  d.style.top = y + 'px';
  d.style.transform = 'translate(' + (al === 'r' ? '-100%' : al === 'c' ? '-50%' : '0') + ',-50%)';
  document.body.appendChild(d);
}
function S(x1, x2, y, col, dot, dash) {
  const d = document.createElement('div');
  d.style.cssText = 'position:absolute;left:' + x1 + 'px;top:' + (y - 1) + 'px;width:' + (x2 - x1) + 'px;height:0;border-top:' +
    (dash ? '1.5px dashed #555' : '2px solid ' + col);
  document.body.appendChild(d);
  if (dot) {
    const p = document.createElement('div');
    p.style.cssText = 'position:absolute;left:' + ((x1 + x2) / 2 - 2.5) + 'px;top:' + (y - 2.5) + 'px;width:5px;height:5px;border-radius:50%;background:' + col;
    document.body.appendChild(p);
  }
}
function M(x, y, col, kind) {
  const c = marker(col, kind);
  c.style.left = (x - 4.5) + 'px';
  c.style.top = (y - 4.5) + 'px';
  document.body.appendChild(c);
}
const fG = 'color:#95c11f;font-weight:bold;font-size:12px';
const fCR = 'color:#c0305f;font-weight:bold;font-size:12px';
const fPK = 'color:#f25ccf;font-size:12px';
const fDG = 'color:#2e9a48;font-weight:bold;font-size:12px';
const fOR = 'color:#f7913a;font-weight:bold;font-size:12px';
const fGR = 'color:#999;font-size:12px';
const fN = 'font-size:12.5px';

T(66, 26, '(a)', 'font-size:17px'); T(66, 159, '(b)', 'font-size:17px'); T(67, 491, '(c)', 'font-size:17px');
[['(1)', 95], ['(2)', 182], ['(3)', 232]].forEach(p => T(p[1], 24, p[0], 'font-size:10px;color:#a4c93c', 'c'));
[['(6)', 329], ['(7)', 380], ['(8)', 440], ['(9)', 471]].forEach(p => T(p[1], 24, p[0], 'font-size:10px;color:#ef6fd0', 'c'));
[['(a)', 605], ['(c)', 716]].forEach(p => T(p[1], 24, p[0], 'font-size:10px;color:#f5a050', 'c'));

// (a) legends
T(110, 100, 'O K: exp.', fG); T(170, 100, '|', fG); T(176, 100, 'mod.', fCR);
T(117, 117, '16 pulses', fN, 'r'); T(117, 131, '1 pulse', fN, 'r');
S(135, 162, 117, C.G, true); S(173, 200, 117, C.OR);
S(135, 162, 131, C.B, true); S(173, 200, 131, C.CR);
T(297, 131, 'Δmod.', fN, 'r'); S(300, 326, 131, '#555', false, true);
T(382, 100, 'Ni<sub>NiO</sub> L: exp.', fPK); T(454, 100, '|', fPK); T(462, 100, 'mod.', fDG);
S(423, 449, 117, C.PK, true); S(461, 487, 117, C.DG);
S(423, 449, 131, C.NV, true); S(461, 487, 131, C.YG);
T(648, 99, 'Ni<sub>m</sub> L: :', fOR); T(693, 99, 'exp.', fOR); T(729, 99, '|', fOR); T(734, 99, 'mod.', fCR);
T(662, 117, '16 pulses', fN, 'r'); T(662, 131, '1 pulse', fN, 'r');
S(695, 722, 117, C.NO, true); S(734, 761, 117, C.LP);
S(695, 722, 131, C.PU, true); S(734, 761, 131, C.PM);

// (b) legends
T(275, 370, 'O K: exp.', fG); T(331, 370, '|', fG); T(337, 370, 'mod.', fCR); T(374, 370, '|', fGR);
T(382, 370, 'Ni<sub>NiO</sub> L: exp.', fPK); T(454, 370, '|', fPK); T(462, 370, 'mod.', fDG);
T(283, 388, '4.0 mJ / cm<sup>2</sup>:', fN, 'r'); T(283, 404, '0.8 mJ / cm<sup>2</sup>:', fN, 'r');
S(300, 327, 388, C.G, true); S(338, 365, 388, C.OR); T(374, 388, '|', fGR);
S(423, 449, 388, C.PK, true); S(461, 487, 388, C.YG);
S(300, 327, 404, C.B, true); S(338, 365, 404, C.CR); T(374, 404, '|', fGR);
S(423, 449, 404, C.NV, true); S(461, 487, 404, C.DG);
T(646, 369, 'Ni<sub>m</sub> L: :', fOR); T(690, 369, 'exp.', fOR); T(723, 369, '|', fOR); T(730, 369, 'mod.', fCR);
T(680, 389, '12 mJ / cm<sup>2</sup>:', fN, 'r'); S(692, 719, 389, C.NO, true); S(736, 763, 389, '#9a4fcf');

// (c) legends
T(253, 527, 'O K', 'color:#95c11f;font-weight:bold;font-size:14px', 'c');
T(237, 546, '4.0 mJ / cm<sup>2</sup>:', fN, 'r'); M(254, 546, '#1f5b8c', 'o');
T(237, 561, '0.8 mJ / cm<sup>2</sup>:', fN, 'r'); M(254, 561, '#1f5b8c', 'x');
T(473, 527, 'Ni<sub>NiO</sub> L', 'color:#f25ccf;font-size:14px', 'c');
T(454, 546, '4.0 mJ / cm<sup>2</sup>:', fN, 'r'); M(473, 546, '#1e2a78', 'o');
T(454, 561, '0.8 mJ / cm<sup>2</sup>:', fN, 'r'); M(473, 561, '#1e2a78', 'x');
T(738, 542, 'Ni<sub>m</sub> L', 'color:#f7913a;font-weight:bold;font-size:14px', 'c');
T(713, 560, '12 mJ / cm<sup>2</sup>:', fN, 'r'); M(738, 560, '#5b2c83', 'o');

// axis titles
T(283, 447, 'photon energy (eV)', 'font-size:15.5px', 'c');
T(663, 447, 'photon energy (eV)', 'font-size:15.5px', 'c');
T(283, 703, 'number of laser pulses', 'font-size:15.5px', 'c');
T(663, 703, 'number of laser pulses', 'font-size:15.5px', 'c');

// axis breaks
[[406, 15], [406, 146], [406, 416], [664, 15], [664, 146], [664, 416]].forEach(b =>
  T(b[0], b[1], '//', 'font-size:13px;font-style:italic;background:#fff;padding:0 1px;letter-spacing:-1px', 'c'));
</script>
</body>
</html>
